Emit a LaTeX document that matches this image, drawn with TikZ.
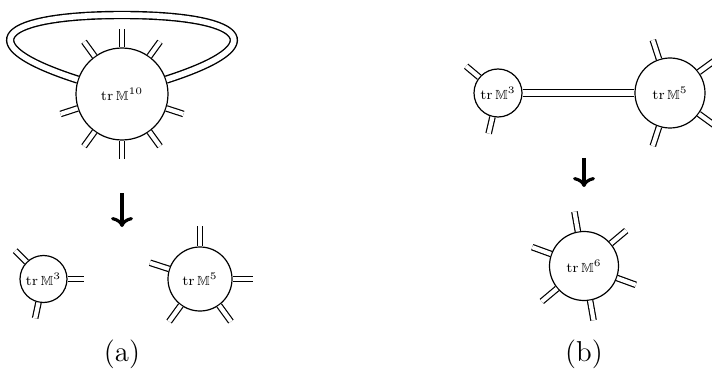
\documentclass[tikz,border=0pt]{standalone}
\usepackage{amsmath,amssymb}
\usetikzlibrary{arrows.meta}
\tikzset{
    vertex/.style={
        draw,semithick,circle,inner sep=0pt,minimum size=#1,
        font=\fontsize{6.6}{8}\selectfont
    },
    vertex/.default=32pt,
    leg/.style={
        double,line width=.6pt,double distance=2.1pt
    },
    prop/.style={
        double,line width=.7pt,double distance=2.8pt
    },
    move/.style={
        -{To[length=5pt,width=11pt]},line width=1.6pt
    }
}
\newcommand{\trM}[1]{$\operatorname{tr}\mathbb{M}^{#1}$}

\begin{document}
\begin{tikzpicture}[x=.5pt,y=.5pt]
\useasboundingbox (0,0) rectangle (712,370);

% (a)
\node[vertex=46pt] (m10) at (122,276) {\trM{10}};
\foreach \a in {90,54,-18,-54,-90,-126,-162,126}
    \draw[leg] (m10.\a) -- ++(\a:18);
\draw[prop] (m10.18) .. controls (280,327) and (240,355) .. (122,355)
    .. controls (4,355) and (-36,327) .. (m10.162);

\coordinate (a1) at (122,177);
\coordinate (a2) at (122,143);
\draw[move] (a1) -- (a2);

\node[vertex=23.5pt] (m3a) at (43.5,91) {\trM{3}};
\foreach \a in {0,135,258}
    \draw[leg] (m3a.\a) -- ++(\a:16);

\node[vertex=32pt] (m5a) at (200,91) {\trM{5}};
\foreach \a in {90,0,162,-126,-54}
    \draw[leg] (m5a.\a) -- ++(\a:20);

\node[font=\Large] (capa) at (122,16) {(a)};

% (b)
\node[vertex=24pt] (m3b) at (498,277) {\trM{3}};
\foreach \a in {140,-103}
    \draw[leg] (m3b.\a) -- ++(\a:17);

\node[vertex=35pt] (m5b) at (670,277) {\trM{5}};
\foreach \a in {108,36,-36,-108}
    \draw[leg] (m5b.\a) -- ++(\a:20);

\draw[prop] (m3b) -- (m5b);

\coordinate (b1) at (584,212);
\coordinate (b2) at (584,183);
\draw[move] (b1) -- (b2);

\node[vertex=34.5pt] (m6) at (584,104) {\trM{6}};
\foreach \a in {100,40,-20,-80,-140,160}
    \draw[leg] (m6.\a) -- ++(\a:20);

\node[font=\Large] (capb) at (584,16) {(b)};
\end{tikzpicture}
\end{document}
